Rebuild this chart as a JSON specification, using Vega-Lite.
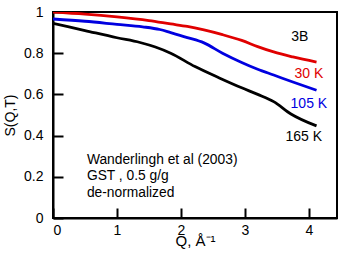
{
  "$schema": "https://vega.github.io/schema/vega-lite/v6.json",
  "width": 284,
  "height": 206,
  "autosize": {"type": "none"},
  "padding": {"left": 53, "top": 12, "right": 5, "bottom": 35},
  "config": {
    "font": "Liberation Sans",
    "view": {"stroke": "black", "strokeWidth": 2},
    "axis": {"zindex": 1, "ticks": true, "tickSize": -10, "tickWidth": 2, "domainColor": "black", "domainWidth": 2, "tickColor": "black", "grid": false, "labelColor": "black", "titleColor": "black", "labelFont": "Liberation Sans", "titleFont": "Liberation Sans", "titleFontWeight": "normal", "labelFontSize": 14, "titleFontSize": 14},
    "axisX": {"labelPadding": 15, "titleFontSize": 15, "titleBaseline": "top", "titleY": 15},
    "axisY": {"labelPadding": 20, "titlePadding": 6}
  },
  "datasets": {
    "curves": [
      {"q": 0, "s": 1.0, "T": "30 K"},
      {"q": 0.5, "s": 0.99, "T": "30 K"},
      {"q": 1.0, "s": 0.976, "T": "30 K"},
      {"q": 1.5, "s": 0.958, "T": "30 K"},
      {"q": 1.84, "s": 0.942, "T": "30 K"},
      {"q": 2.1, "s": 0.93, "T": "30 K"},
      {"q": 2.36, "s": 0.913, "T": "30 K"},
      {"q": 2.65, "s": 0.89, "T": "30 K"},
      {"q": 2.95, "s": 0.862, "T": "30 K"},
      {"q": 3.2, "s": 0.832, "T": "30 K"},
      {"q": 3.45, "s": 0.806, "T": "30 K"},
      {"q": 3.75, "s": 0.782, "T": "30 K"},
      {"q": 4.12, "s": 0.757, "T": "30 K"},
      {"q": 0, "s": 0.966, "T": "105 K"},
      {"q": 0.5, "s": 0.955, "T": "105 K"},
      {"q": 1.0, "s": 0.94, "T": "105 K"},
      {"q": 1.4, "s": 0.928, "T": "105 K"},
      {"q": 1.67, "s": 0.915, "T": "105 K"},
      {"q": 1.84, "s": 0.9, "T": "105 K"},
      {"q": 2.1, "s": 0.876, "T": "105 K"},
      {"q": 2.36, "s": 0.85, "T": "105 K"},
      {"q": 2.65, "s": 0.8, "T": "105 K"},
      {"q": 2.95, "s": 0.755, "T": "105 K"},
      {"q": 3.2, "s": 0.722, "T": "105 K"},
      {"q": 3.45, "s": 0.694, "T": "105 K"},
      {"q": 3.75, "s": 0.66, "T": "105 K"},
      {"q": 4.12, "s": 0.62, "T": "105 K"},
      {"q": 0, "s": 0.945, "T": "165 K"},
      {"q": 0.5, "s": 0.91, "T": "165 K"},
      {"q": 1.0, "s": 0.875, "T": "165 K"},
      {"q": 1.36, "s": 0.852, "T": "165 K"},
      {"q": 1.6, "s": 0.83, "T": "165 K"},
      {"q": 1.84, "s": 0.8, "T": "165 K"},
      {"q": 2.22, "s": 0.735, "T": "165 K"},
      {"q": 2.6, "s": 0.68, "T": "165 K"},
      {"q": 2.95, "s": 0.632, "T": "165 K"},
      {"q": 3.2, "s": 0.6, "T": "165 K"},
      {"q": 3.45, "s": 0.565, "T": "165 K"},
      {"q": 3.72, "s": 0.505, "T": "165 K"},
      {"q": 4.12, "s": 0.447, "T": "165 K"}
    ],
    "labels": [
      {"q": 3.86, "s": 0.879, "label": "3B", "T": "3B"},
      {"q": 4.0, "s": 0.70, "label": "30 K", "T": "30 K"},
      {"q": 4.0, "s": 0.553, "label": "105 K", "T": "105 K"},
      {"q": 3.92, "s": 0.393, "label": "165 K", "T": "165 K"}
    ],
    "notes": [
      {"q": 0.53, "s": 0.283, "label": "Wanderlingh et al (2003)"},
      {"q": 0.53, "s": 0.203, "label": "GST , 0.5 g/g"},
      {"q": 0.53, "s": 0.123, "label": "de-normalized"}
    ]
  },
  "layer": [
    {
      "data": {"name": "curves"},
      "mark": {"type": "line", "strokeWidth": 2.8, "clip": true, "interpolate": "monotone"},
      "encoding": {
        "x": {"field": "q", "type": "quantitative", "scale": {"domain": [0, 4.44], "nice": false},
          "axis": {"title": "Q, Å⁻¹", "values": [0, 1, 2, 3, 4], "format": "d"}},
        "y": {"field": "s", "type": "quantitative", "scale": {"domain": [0, 1], "nice": false},
          "axis": {"title": "S(Q,T)", "values": [0, 0.2, 0.4, 0.6, 0.8, 1], "format": ".1~f"}},
        "color": {"field": "T", "type": "nominal", "scale": {"domain": ["30 K", "105 K", "165 K", "3B"], "range": ["#e00000", "#0000e0", "#000000", "#000000"]}, "legend": null}
      }
    },
    {
      "data": {"name": "labels"},
      "mark": {"type": "text", "fontSize": 14, "align": "center", "baseline": "middle"},
      "encoding": {
        "x": {"field": "q", "type": "quantitative",
          "axis": {"title": "Q, Å⁻¹", "values": [0, 1, 2, 3, 4], "format": "d"}},
        "y": {"field": "s", "type": "quantitative",
          "axis": {"title": "S(Q,T)", "values": [0, 0.2, 0.4, 0.6, 0.8, 1], "format": ".1~f"}},
        "text": {"field": "label"},
        "color": {"field": "T", "type": "nominal", "legend": null}
      }
    },
    {
      "data": {"name": "notes"},
      "mark": {"type": "text", "fontSize": 13.8, "align": "left", "baseline": "middle", "color": "black"},
      "encoding": {
        "x": {"field": "q", "type": "quantitative",
          "axis": {"title": "Q, Å⁻¹", "values": [0, 1, 2, 3, 4], "format": "d"}},
        "y": {"field": "s", "type": "quantitative",
          "axis": {"title": "S(Q,T)", "values": [0, 0.2, 0.4, 0.6, 0.8, 1], "format": ".1~f"}},
        "text": {"field": "label"}
      }
    }
  ]
}
